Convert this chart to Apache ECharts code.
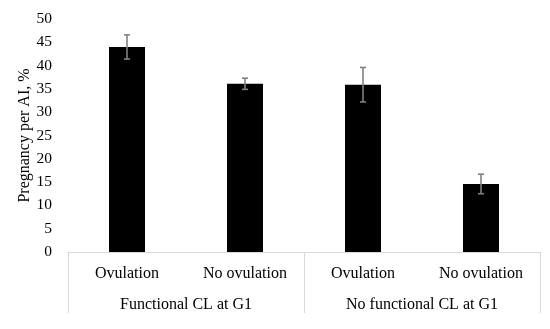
<!DOCTYPE html>
<html><head><meta charset="utf-8">
<script src="https://cdn.jsdelivr.net/npm/echarts@6/dist/echarts.min.js"></script>
<style>html,body{margin:0;padding:0;background:#fff}#c{width:550px;height:329px}</style>
</head><body><div id="c"></div>
<script>
var categories = ['Ovulation', 'No ovulation', 'Ovulation', 'No ovulation'];
var groups = ['Functional CL at G1', 'No functional CL at G1'];
var values = [44.0, 36.1, 35.9, 14.6];
var errors = [2.6, 1.2, 3.7, 2.1];
var yTicks = [0, 5, 10, 15, 20, 25, 30, 35, 40, 45, 50];
var yTitle = 'Pregnancy per AI, %';

var FONT = '"Liberation Serif", "Times New Roman", serif';
var chart = echarts.init(document.getElementById('c'));
var errData = values.map(function (v, i) { return [i, v - errors[i], v + errors[i]]; });

chart.setOption({
  animation: false,
  grid: { left: 68, right: 10, top: 19, bottom: 77 },
  graphic: [{
    type: 'text', x: 25, y: 135.5, rotation: Math.PI / 2,
    style: { text: yTitle, fill: '#000', font: '16px ' + FONT, align: 'center', verticalAlign: 'middle' }
  }],
  xAxis: [{
    type: 'category', data: categories, position: 'bottom',
    axisLine: { show: true, lineStyle: { color: '#d9d9d9', width: 1 } },
    axisTick: { show: false },
    axisLabel: { color: '#000', fontFamily: FONT, fontSize: 16, margin: 14, interval: 0 }
  }, {
    type: 'category', data: groups, position: 'bottom',
    axisLine: { show: false },
    axisTick: { show: true, length: 61, interval: 0, lineStyle: { color: '#d9d9d9', width: 1 } },
    axisLabel: { color: '#000', fontFamily: FONT, fontSize: 16, margin: 45, interval: 0 }
  }],
  yAxis: {
    type: 'value', min: yTicks[0], max: yTicks[yTicks.length - 1], interval: 5,
    axisLine: { show: false }, axisTick: { show: false },
    splitLine: { show: false },
    axisLabel: { color: '#000', fontFamily: FONT, fontSize: 15.5, margin: 16 }
  },
  series: [{
    type: 'bar', data: values, barWidth: 36, xAxisIndex: 0,
    itemStyle: { color: '#000' }
  }, {
    type: 'custom', xAxisIndex: 0, data: errData, z: 10,
    renderItem: function (params, api) {
      var x = api.value(0);
      var lo = api.coord([x, api.value(1)]);
      var hi = api.coord([x, api.value(2)]);
      var w = 3;
      var st = { stroke: '#808080', lineWidth: 1.6 };
      return { type: 'group', children: [
        { type: 'line', shape: { x1: lo[0], y1: lo[1], x2: hi[0], y2: hi[1] }, style: st },
        { type: 'line', shape: { x1: lo[0] - w, y1: lo[1], x2: lo[0] + w, y2: lo[1] }, style: st },
        { type: 'line', shape: { x1: hi[0] - w, y1: hi[1], x2: hi[0] + w, y2: hi[1] }, style: st }
      ] };
    }
  }]
});
</script></body></html>
